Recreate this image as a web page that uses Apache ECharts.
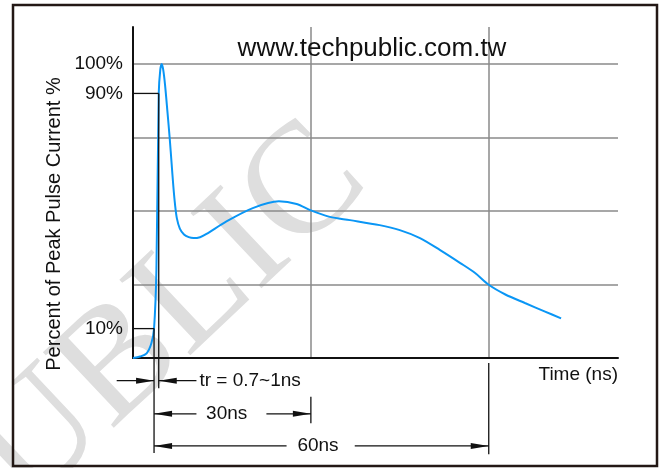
<!DOCTYPE html>
<html>
<head>
<meta charset="utf-8">
<script src="https://cdn.jsdelivr.net/npm/echarts@6/dist/echarts.min.js"></script>
<style>
html, body { margin: 0; padding: 0; background: #fff; }
#main { width: 659px; height: 468px; }
</style>
</head>
<body>
<div id="main"></div>
<script>
// pulse waveform: time in ns, current in % of peak
var timeNs = [0, 1.2, 2.3, 3.1, 3.55, 3.95, 4.34, 4.6, 4.85, 5.1, 5.4, 5.8, 6.2, 6.5, 6.8, 7.1, 7.4, 7.9, 8.6, 9.4, 10.2, 11.3, 12.4, 15.7, 20.2, 24.6, 27.6, 30, 33.2, 36.6, 41.6, 45, 48.4, 51.8, 55.2, 57.7, 60, 62.8, 66.1, 69.5, 72.2];
var currentPct = [0, 0.5, 1.6, 5, 10, 30, 90, 98, 100, 98, 93, 84, 74.5, 66.5, 58.5, 52, 47.5, 44, 42, 41.1, 40.8, 41.1, 42.2, 46.4, 51, 53.3, 52.4, 50.2, 48, 46.9, 45.2, 43.5, 40.8, 36.7, 32.3, 28.9, 24.9, 21.6, 18.7, 15.8, 13.5];
var yLabels = [10, 90, 100];
var t10 = 3.55;   // 10% crossing
var t90 = 4.34;   // 90% crossing
var spanEnds = [30, 60];

var font = 'Liberation Sans, Arial, sans-serif';
var chart = echarts.init(document.getElementById('main'));

var option = {
  animation: false,
  backgroundColor: '#fff',
  grid: { left: 133, top: 27, right: 41, bottom: 110 },
  xAxis: {
    type: 'value',
    min: 0,
    max: 81.8,
    interval: 30,
    axisLine: { lineStyle: { color: '#111', width: 2 } },
    axisTick: { show: false },
    axisLabel: { show: false },
    splitLine: { showMinLine: false, showMaxLine: false, lineStyle: { color: '#8a8a8a', width: 1.5 } }
  },
  yAxis: {
    type: 'value',
    min: 0,
    max: 112.6,
    interval: 25,
    axisLine: { show: true, lineStyle: { color: '#111', width: 2 } },
    axisTick: { show: false },
    axisLabel: {
      customValues: yLabels,
      formatter: '{value}%',
      margin: 10,
      color: '#111',
      fontSize: 19,
      fontFamily: font
    },
    splitLine: { showMinLine: false, showMaxLine: false, lineStyle: { color: '#8a8a8a', width: 1.5 } }
  },
  series: [{
    type: 'line',
    data: timeNs.map(function (t, i) { return [t, currentPct[i]]; }),
    smooth: 0.3,
    symbol: 'none',
    lineStyle: { color: '#0a96f5', width: 2 },
    z: 5
  }]
};
chart.setOption(option);

// annotations, placed in data units through the chart's own scales
function px(x, y) { return chart.convertToPixel({ gridIndex: 0 }, [x, y]); }
var ink = '#111';
var g = [];
function seg(a, b) {
  var p = px(a[0], a[1]), q = px(b[0], b[1]);
  g.push({ type: 'line', shape: { x1: p[0], y1: p[1], x2: q[0], y2: q[1] }, style: { stroke: ink, lineWidth: 1.3 }, z: 20 });
}
function arrow(x, y, dir) {
  var p = px(x, y);
  g.push({ type: 'polygon', shape: { points: [[p[0], p[1]], [p[0] - dir * 18, p[1] - 3], [p[0] - dir * 18, p[1] + 3]] }, style: { fill: ink }, z: 21 });
}
function label(text, x, y, align, size) {
  var p = px(x, y);
  g.push({ type: 'text', x: p[0], y: p[1], style: { text: text, fill: ink, font: (size || 19) + 'px ' + font, align: align, verticalAlign: 'middle' }, z: 22 });
}

// 90% and 10% level markers with their drop lines
seg([0, 90], [t90, 90]);
seg([t90, 90], [t90, -10.3]);
seg([0, 10], [t10, 10]);
seg([t10, 10], [t10, -32.3]);
seg([spanEnds[0], -13.2], [spanEnds[0], -22.2]);
seg([spanEnds[1], -1.7], [spanEnds[1], -32.7]);

// tr row
seg([-2.75, -7.7], [t10, -7.7]);
arrow(t10, -7.7, 1);
seg([t90, -7.7], [10.7, -7.7]);
arrow(t90, -7.7, -1);
label('tr = 0.7~1ns', 11.2, -7.7, 'left');

// 30ns row
seg([t10, -19], [10.7, -19]);
arrow(t10, -19, -1);
seg([22.5, -19], [spanEnds[0], -19]);
arrow(spanEnds[0], -19, 1);
label('30ns', 15.8, -19, 'center');

// 60ns row
seg([t10, -29.9], [25.9, -29.9]);
arrow(t10, -29.9, -1);
seg([37.4, -29.9], [spanEnds[1], -29.9]);
arrow(spanEnds[1], -29.9, 1);
label('60ns', 31.2, -29.9, 'center');

label('Time (ns)', 81.8, -5.8, 'right');

// site mark, axis title, watermark and frame
g.push({ type: 'text', x: 372, y: 49, style: { text: 'www.techpublic.com.tw', fill: ink, font: '26px ' + font, align: 'center', verticalAlign: 'middle' }, z: 22 });
g.push({ type: 'text', x: 54, y: 224, rotation: Math.PI / 2, style: { text: 'Percent of Peak Pulse Current %', fill: ink, font: '20px ' + font, align: 'center', verticalAlign: 'middle' }, z: 22 });
g.push({ type: 'text', x: -65, y: 539, rotation: 0.756, style: { text: 'PUBLIC', fill: '#dedede', font: '158px Liberation Serif, Times New Roman, serif', align: 'left', verticalAlign: 'middle' }, z: -10 });
g.push({ type: 'rect', shape: { x: 13, y: 5, width: 644, height: 461 }, style: { fill: null, stroke: '#231815', lineWidth: 2.5 }, z: 30 });

chart.setOption({ graphic: g });
</script>
</body>
</html>
